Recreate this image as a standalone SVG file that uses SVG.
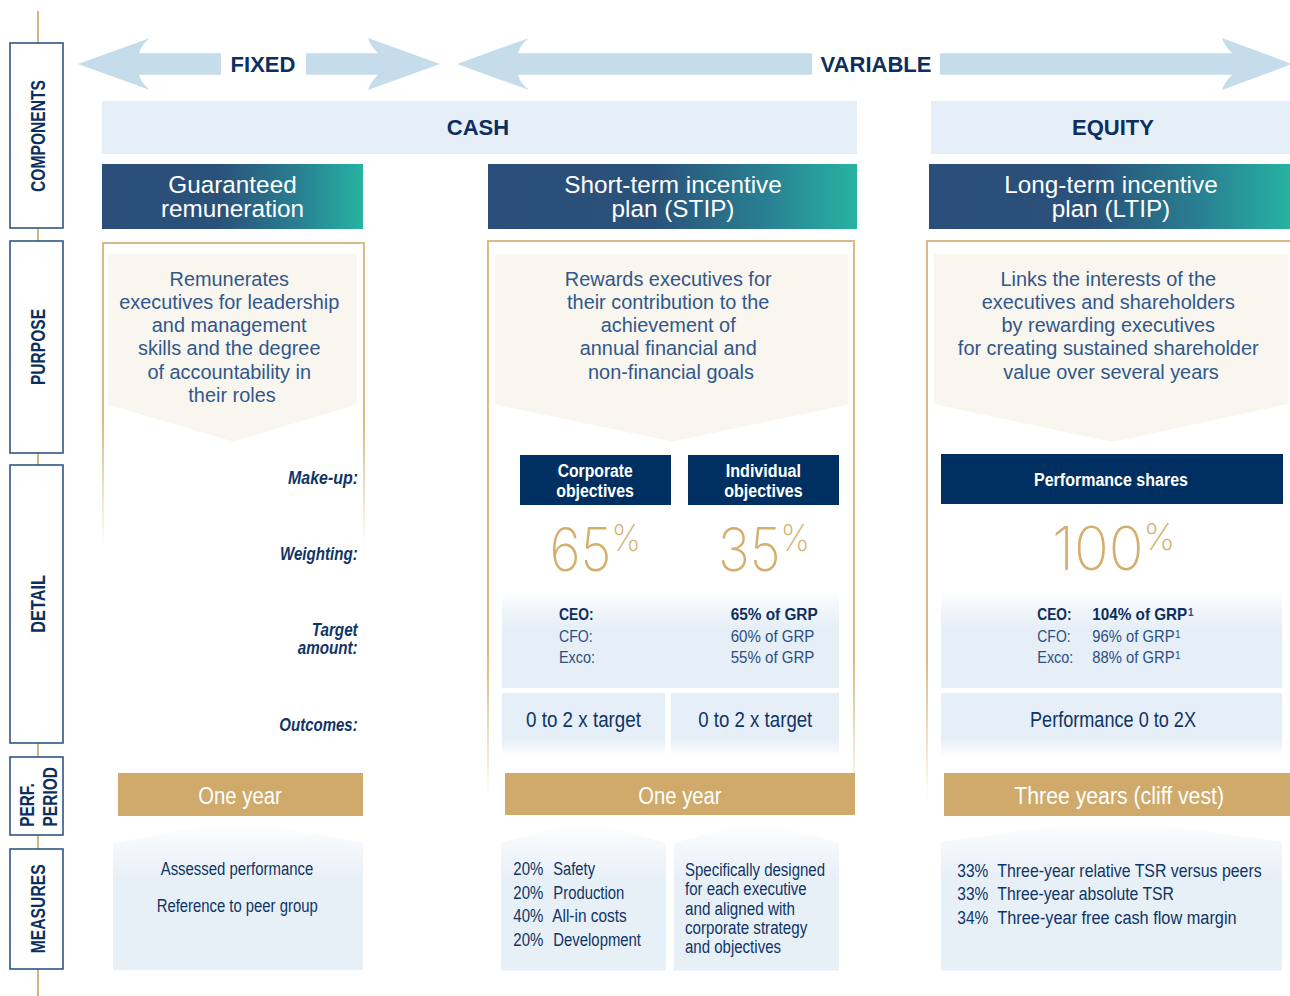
<svg xmlns="http://www.w3.org/2000/svg" width="1290" height="996" viewBox="0 0 1290 996">
  <defs>
    <linearGradient id="hdrGrad" x1="0" y1="0" x2="1" y2="0">
      <stop offset="0" stop-color="#2a4e79"/>
      <stop offset="0.45" stop-color="#2a5279"/>
      <stop offset="0.75" stop-color="#297f92"/>
      <stop offset="1" stop-color="#27b3a2"/>
    </linearGradient>
    <linearGradient id="targetFade" x1="0" y1="0" x2="0" y2="1">
      <stop offset="0" stop-color="#ffffff"/>
      <stop offset="0.38" stop-color="#e6eef7"/>
      <stop offset="1" stop-color="#e6eef7"/>
    </linearGradient>
    <linearGradient id="outcomeFade" x1="0" y1="0" x2="0" y2="1">
      <stop offset="0" stop-color="#e6eef7"/>
      <stop offset="0.72" stop-color="#e6eef7"/>
      <stop offset="1" stop-color="#ffffff"/>
    </linearGradient>
    <linearGradient id="measureFade" x1="0" y1="0" x2="0" y2="1">
      <stop offset="0" stop-color="#ffffff"/>
      <stop offset="0.4" stop-color="#e7eff7"/>
      <stop offset="1" stop-color="#e7eff7"/>
    </linearGradient>
    <linearGradient id="goldShort" x1="0" y1="0" x2="0" y2="1">
      <stop offset="0" stop-color="#d8bb85"/>
      <stop offset="0.6" stop-color="#d8bb85"/>
      <stop offset="1" stop-color="#d8bb85" stop-opacity="0"/>
    </linearGradient>
    <linearGradient id="goldLong" x1="0" y1="0" x2="0" y2="1">
      <stop offset="0" stop-color="#d8bb85"/>
      <stop offset="0.75" stop-color="#d8bb85"/>
      <stop offset="1" stop-color="#d8bb85" stop-opacity="0"/>
    </linearGradient>
    <linearGradient id="goldTop" x1="0" y1="0" x2="1" y2="0">
      <stop offset="0" stop-color="#d4b57c"/>
      <stop offset="0.94" stop-color="#d4b57c"/>
      <stop offset="1" stop-color="#d4b57c" stop-opacity="0"/>
    </linearGradient>
    <style>
      .side { fill:#ffffff; stroke:#2f5584; stroke-width:1.6; }
      .sideTxt { font-family:"Liberation Sans",Arial,sans-serif; font-weight:bold; font-size:20.5px; fill:#0c2f5f; }
      .arrow { fill:#c5dcea; }
      .big { font-family:"Liberation Sans",Arial,sans-serif; font-weight:bold; font-size:22px; fill:#0c2f5f; text-anchor:middle; }
      .band { fill:#e6eef7; }
      .hdr { fill:url(#hdrGrad); }
      .hdrTxt { font-family:"Liberation Sans",Arial,sans-serif; font-size:24.3px; fill:#ffffff; text-anchor:middle; }
      .frame { fill:none; stroke-width:2; }
      .chev { fill:#f9f5ef; }
      .purp { font-family:"Liberation Sans",Arial,sans-serif; font-size:19.9px; fill:#31588a; text-anchor:middle; }
      .lbl { font-family:"Liberation Sans",Arial,sans-serif; font-weight:bold; font-style:italic; font-size:18.5px; fill:#0f3566; }
      .navy { fill:#002f62; }
      .navyTxt { font-family:"Liberation Sans",Arial,sans-serif; font-weight:bold; font-size:18px; fill:#ffffff; }
      .pct { font-family:Inter,Lato,"Liberation Sans",sans-serif; font-weight:200; font-size:60px; fill:#d4ae6d; }
      .pctSign { font-size:37px; }
      .tgt { fill:url(#targetFade); }
      .tTxt { font-family:"Liberation Sans",Arial,sans-serif; font-size:16px; fill:#2a4f80; }
      .tBold { font-weight:bold; fill:#0c2f5f; }
      .sup { font-family:"Liberation Sans",Arial,sans-serif; font-size:10px; fill:#2a4f80; }
      .out { fill:url(#outcomeFade); }
      .outTxt { font-family:"Liberation Sans",Arial,sans-serif; font-size:21.5px; fill:#0f3566; }
      .gold { fill:#cfaa6b; }
      .goldTxt { font-family:"Liberation Sans",Arial,sans-serif; font-size:23px; fill:#ffffff; }
      .meas { fill:url(#measureFade); }
      .mTxt { font-family:"Liberation Sans",Arial,sans-serif; font-size:18px; fill:#0f3566; }
    </style>
  </defs>

  <!-- outer gold rule -->
  <g id="frame-rule">
    <line x1="37" y1="12" x2="1290" y2="12" stroke="url(#goldTop)" stroke-width="2"/>
    <line x1="38" y1="11" x2="38" y2="996" stroke="#d4b57c" stroke-width="2"/>
  </g>

  <!-- row labels (condensed lettering via textLength) -->
  <g id="row-components">
    <rect class="side" x="10" y="43" width="53" height="185"/>
    <text class="sideTxt" transform="translate(45,192) rotate(-90)" textLength="112" lengthAdjust="spacingAndGlyphs">COMPONENTS</text>
  </g>
  <g id="row-purpose">
    <rect class="side" x="10" y="241" width="53" height="212"/>
    <text class="sideTxt" transform="translate(44.5,385) rotate(-90)" textLength="76" lengthAdjust="spacingAndGlyphs">PURPOSE</text>
  </g>
  <g id="row-detail">
    <rect class="side" x="10" y="465" width="53" height="278"/>
    <text class="sideTxt" transform="translate(44.5,632.7) rotate(-90)" textLength="57.7" lengthAdjust="spacingAndGlyphs">DETAIL</text>
  </g>
  <g id="row-period">
    <rect class="side" x="10" y="757" width="53" height="78"/>
    <text class="sideTxt" transform="translate(33.5,826.7) rotate(-90)" textLength="43.5" lengthAdjust="spacingAndGlyphs">PERF.</text>
    <text class="sideTxt" transform="translate(57,826.5) rotate(-90)" textLength="59.5" lengthAdjust="spacingAndGlyphs">PERIOD</text>
  </g>
  <g id="row-measures">
    <rect class="side" x="10" y="849" width="53" height="120"/>
    <text class="sideTxt" transform="translate(45,953.3) rotate(-90)" textLength="89" lengthAdjust="spacingAndGlyphs">MEASURES</text>
  </g>

  <!-- double-headed range arrows -->
  <g id="arrow-fixed">
    <path class="arrow" d="M78,64 L150,38 Q141,45 139,53.3 L221,53.3 L221,74.7 L139,74.7 Q141,83 150,90 Z"/>
    <path class="arrow" d="M306,53.3 L378,53.3 Q370,45 368,38 L440,64 L368,90 Q370,83 378,74.7 L306,74.7 Z"/>
    <text class="big" x="263" y="72">FIXED</text>
  </g>
  <g id="arrow-variable">
    <path class="arrow" d="M457,64 L529,38 Q520,45 518,53.3 L812,53.3 L812,74.7 L518,74.7 Q520,83 529,90 Z"/>
    <path class="arrow" d="M940,53.3 L1232,53.3 Q1224,45 1222,38 L1292,64 L1222,90 Q1224,83 1232,74.7 L940,74.7 Z"/>
    <text class="big" x="876" y="72">VARIABLE</text>
  </g>

  <!-- pay type bands -->
  <g id="band-cash">
    <rect class="band" x="102" y="101" width="755" height="53"/>
    <text class="big" x="478" y="135">CASH</text>
  </g>
  <g id="band-equity">
    <rect class="band" x="931" y="101" width="359" height="53"/>
    <text class="big" x="1113" y="135">EQUITY</text>
  </g>

  <!-- column 1: guaranteed remuneration -->
  <g id="col-guaranteed">
    <rect class="hdr" x="102" y="164" width="261" height="65"/>
    <text class="hdrTxt" x="232.5" y="193">Guaranteed</text>
    <text class="hdrTxt" x="232.5" y="217">remuneration</text>
    <path class="frame" stroke="url(#goldShort)" d="M103,545 V243 H364 V545"/>
    <path class="chev" d="M108,254.5 H357 V404.5 L233,441.5 L108,404.5 Z"/>
    <text class="purp" y="285.5">
      <tspan x="232" dy="0">Remunerates</tspan>
      <tspan x="232" dy="23.3">executives for leadership</tspan>
      <tspan x="232" dy="23.3">and management</tspan>
      <tspan x="232" dy="23.3">skills and the degree</tspan>
      <tspan x="232" dy="23.3">of accountability in</tspan>
      <tspan x="232" dy="23.3">their roles</tspan>
    </text>
    <text class="lbl" x="288" y="483.5" textLength="70" lengthAdjust="spacingAndGlyphs">Make-up:</text>
    <text class="lbl" x="280" y="559.5" textLength="77.7" lengthAdjust="spacingAndGlyphs">Weighting:</text>
    <text class="lbl" x="311.7" y="636" textLength="46" lengthAdjust="spacingAndGlyphs">Target</text>
    <text class="lbl" x="297.7" y="653.5" textLength="60" lengthAdjust="spacingAndGlyphs">amount:</text>
    <text class="lbl" x="279.3" y="731" textLength="78.4" lengthAdjust="spacingAndGlyphs">Outcomes:</text>
    <rect class="gold" x="118" y="773" width="245" height="43"/>
    <text class="goldTxt" x="198.3" y="803.5" textLength="83.4" lengthAdjust="spacingAndGlyphs">One year</text>
    <path class="meas" d="M113,843 L238,820 L363,843 V970 H113 Z"/>
    <text class="mTxt" x="160.7" y="874.5" textLength="152.6" lengthAdjust="spacingAndGlyphs">Assessed performance</text>
    <text class="mTxt" x="156.7" y="912" textLength="161" lengthAdjust="spacingAndGlyphs">Reference to peer group</text>
  </g>

  <!-- column 2: short-term incentive plan -->
  <g id="col-stip">
    <rect class="hdr" x="488" y="164" width="369" height="65"/>
    <text class="hdrTxt" x="673" y="193">Short-term incentive</text>
    <text class="hdrTxt" x="673" y="217">plan (STIP)</text>
    <path class="frame" stroke="url(#goldLong)" d="M488,800 V241 H854 V800"/>
    <path class="chev" d="M495,254.5 H848 V404.5 L672.5,441.5 L495,404.5 Z"/>
    <text class="purp" y="285.5">
      <tspan x="671" dy="0">Rewards executives for</tspan>
      <tspan x="671" dy="23.3">their contribution to the</tspan>
      <tspan x="671" dy="23.3">achievement of</tspan>
      <tspan x="671" dy="23.3">annual financial and</tspan>
      <tspan x="671" dy="23.3">non-financial goals</tspan>
    </text>
    <rect class="navy" x="520" y="455" width="151" height="50"/>
    <text class="navyTxt" x="557.7" y="477" textLength="75" lengthAdjust="spacingAndGlyphs">Corporate</text>
    <text class="navyTxt" x="556.2" y="496.5" textLength="77.6" lengthAdjust="spacingAndGlyphs">objectives</text>
    <rect class="navy" x="688" y="455" width="151" height="50"/>
    <text class="navyTxt" x="725.7" y="477" textLength="75.3" lengthAdjust="spacingAndGlyphs">Individual</text>
    <text class="navyTxt" x="724.3" y="496.5" textLength="78.3" lengthAdjust="spacingAndGlyphs">objectives</text>
    <g transform="translate(549.5,571) scale(0.89,1)">
      <text class="pct">65<tspan class="pctSign" dy="-20">%</tspan></text>
    </g>
    <g transform="translate(718,571) scale(0.89,1)">
      <text class="pct">35<tspan class="pctSign" dy="-20">%</tspan></text>
    </g>
    <rect class="tgt" x="502" y="590" width="337" height="98"/>
    <text class="tTxt tBold" x="559" y="619.5" textLength="34.7" lengthAdjust="spacingAndGlyphs">CEO:</text>
    <text class="tTxt" x="559" y="641.5" textLength="33.7" lengthAdjust="spacingAndGlyphs">CFO:</text>
    <text class="tTxt" x="559" y="662.5" textLength="36" lengthAdjust="spacingAndGlyphs">Exco:</text>
    <text class="tTxt tBold" x="730.7" y="619.5" textLength="87" lengthAdjust="spacingAndGlyphs">65% of GRP</text>
    <text class="tTxt" x="730.7" y="641.5" textLength="83.7" lengthAdjust="spacingAndGlyphs">60% of GRP</text>
    <text class="tTxt" x="730.7" y="662.5" textLength="83.7" lengthAdjust="spacingAndGlyphs">55% of GRP</text>
    <rect class="out" x="502" y="693" width="163" height="64"/>
    <rect class="out" x="671" y="693" width="168" height="64"/>
    <text class="outTxt" x="526" y="727" textLength="115" lengthAdjust="spacingAndGlyphs">0 to 2 x target</text>
    <text class="outTxt" x="698.3" y="727" textLength="114" lengthAdjust="spacingAndGlyphs">0 to 2 x target</text>
    <rect class="gold" x="505" y="773" width="350" height="42"/>
    <text class="goldTxt" x="638.3" y="803.5" textLength="83.3" lengthAdjust="spacingAndGlyphs">One year</text>
    <path class="meas" d="M501,843 L583.5,820 L666,843 V970.5 H501 Z"/>
    <path class="meas" d="M674,843 L756.5,820 L839,843 V970.5 H674 Z"/>
    <text class="mTxt" x="513.3" y="875" textLength="30" lengthAdjust="spacingAndGlyphs">20%</text>
    <text class="mTxt" x="553.3" y="875" textLength="41.7" lengthAdjust="spacingAndGlyphs">Safety</text>
    <text class="mTxt" x="513.3" y="898.5" textLength="30" lengthAdjust="spacingAndGlyphs">20%</text>
    <text class="mTxt" x="553.3" y="898.5" textLength="71" lengthAdjust="spacingAndGlyphs">Production</text>
    <text class="mTxt" x="513.3" y="922" textLength="30" lengthAdjust="spacingAndGlyphs">40%</text>
    <text class="mTxt" x="552.3" y="922" textLength="74.3" lengthAdjust="spacingAndGlyphs">All-in costs</text>
    <text class="mTxt" x="513.3" y="945.5" textLength="30" lengthAdjust="spacingAndGlyphs">20%</text>
    <text class="mTxt" x="553.3" y="945.5" textLength="87.7" lengthAdjust="spacingAndGlyphs">Development</text>
    <text class="mTxt" x="685" y="876" textLength="140" lengthAdjust="spacingAndGlyphs">Specifically designed</text>
    <text class="mTxt" x="685" y="895.3" textLength="121.7" lengthAdjust="spacingAndGlyphs">for each executive</text>
    <text class="mTxt" x="685" y="914.6" textLength="110" lengthAdjust="spacingAndGlyphs">and aligned with</text>
    <text class="mTxt" x="685" y="933.9" textLength="122.3" lengthAdjust="spacingAndGlyphs">corporate strategy</text>
    <text class="mTxt" x="685" y="953.2" textLength="96" lengthAdjust="spacingAndGlyphs">and objectives</text>
  </g>

  <!-- column 3: long-term incentive plan -->
  <g id="col-ltip">
    <rect class="hdr" x="929" y="164" width="361" height="65"/>
    <text class="hdrTxt" x="1111" y="193">Long-term incentive</text>
    <text class="hdrTxt" x="1111" y="217">plan (LTIP)</text>
    <path class="frame" stroke="url(#goldLong)" d="M927,800 V241 H1292 V800"/>
    <path class="chev" d="M934,254 H1288 V404 L1112.5,442 L934,404 Z"/>
    <text class="purp" y="285.5">
      <tspan x="1111" dy="0">Links the interests of the</tspan>
      <tspan x="1111" dy="23.3">executives and shareholders</tspan>
      <tspan x="1111" dy="23.3">by rewarding executives</tspan>
      <tspan x="1111" dy="23.3">for creating sustained shareholder</tspan>
      <tspan x="1111" dy="23.3">value over several years</tspan>
    </text>
    <rect class="navy" x="941" y="454" width="342" height="50"/>
    <text class="navyTxt" x="1034" y="486" textLength="154" lengthAdjust="spacingAndGlyphs">Performance shares</text>
    <g transform="translate(1052,570) scale(0.96,1)">
      <text class="pct">100<tspan class="pctSign" dy="-20">%</tspan></text>
    </g>
    <rect class="tgt" x="941" y="590" width="341" height="98"/>
    <text class="tTxt tBold" x="1037.3" y="620" textLength="34.3" lengthAdjust="spacingAndGlyphs">CEO:</text>
    <text class="tTxt" x="1037.3" y="642" textLength="33.3" lengthAdjust="spacingAndGlyphs">CFO:</text>
    <text class="tTxt" x="1037.3" y="663" textLength="36" lengthAdjust="spacingAndGlyphs">Exco:</text>
    <text class="tTxt tBold" transform="translate(1092.3,620) scale(0.955,1)">104% of GRP</text>
    <text class="tTxt" transform="translate(1092.3,642) scale(0.925,1)">96% of GRP</text>
    <text class="tTxt" transform="translate(1092.3,663) scale(0.925,1)">88% of GRP</text>
    <text class="sup" x="1188" y="615.5" font-weight="bold">1</text>
    <text class="sup" x="1175" y="637.5">1</text>
    <text class="sup" x="1175" y="658.5">1</text>
    <rect class="out" x="941" y="693" width="341" height="64"/>
    <text class="outTxt" x="1030" y="727" textLength="166" lengthAdjust="spacingAndGlyphs">Performance 0 to 2X</text>
    <rect class="gold" x="944" y="773" width="346" height="43"/>
    <text class="goldTxt" x="1014.3" y="804" textLength="209.7" lengthAdjust="spacingAndGlyphs">Three years (cliff vest)</text>
    <path class="meas" d="M941,842 L1111.5,818 L1282,842 V970.5 H941 Z"/>
    <text class="mTxt" x="957.3" y="877" textLength="31" lengthAdjust="spacingAndGlyphs">33%</text>
    <text class="mTxt" transform="translate(997.3,877) scale(0.882,1)">Three-year relative TSR versus peers</text>
    <text class="mTxt" x="957.3" y="900" textLength="31" lengthAdjust="spacingAndGlyphs">33%</text>
    <text class="mTxt" x="997.3" y="900" textLength="176.7" lengthAdjust="spacingAndGlyphs">Three-year absolute TSR</text>
    <text class="mTxt" x="957.3" y="923.5" textLength="31" lengthAdjust="spacingAndGlyphs">34%</text>
    <text class="mTxt" x="997.3" y="923.5" textLength="239.3" lengthAdjust="spacingAndGlyphs">Three-year free cash flow margin</text>
  </g>
</svg>
